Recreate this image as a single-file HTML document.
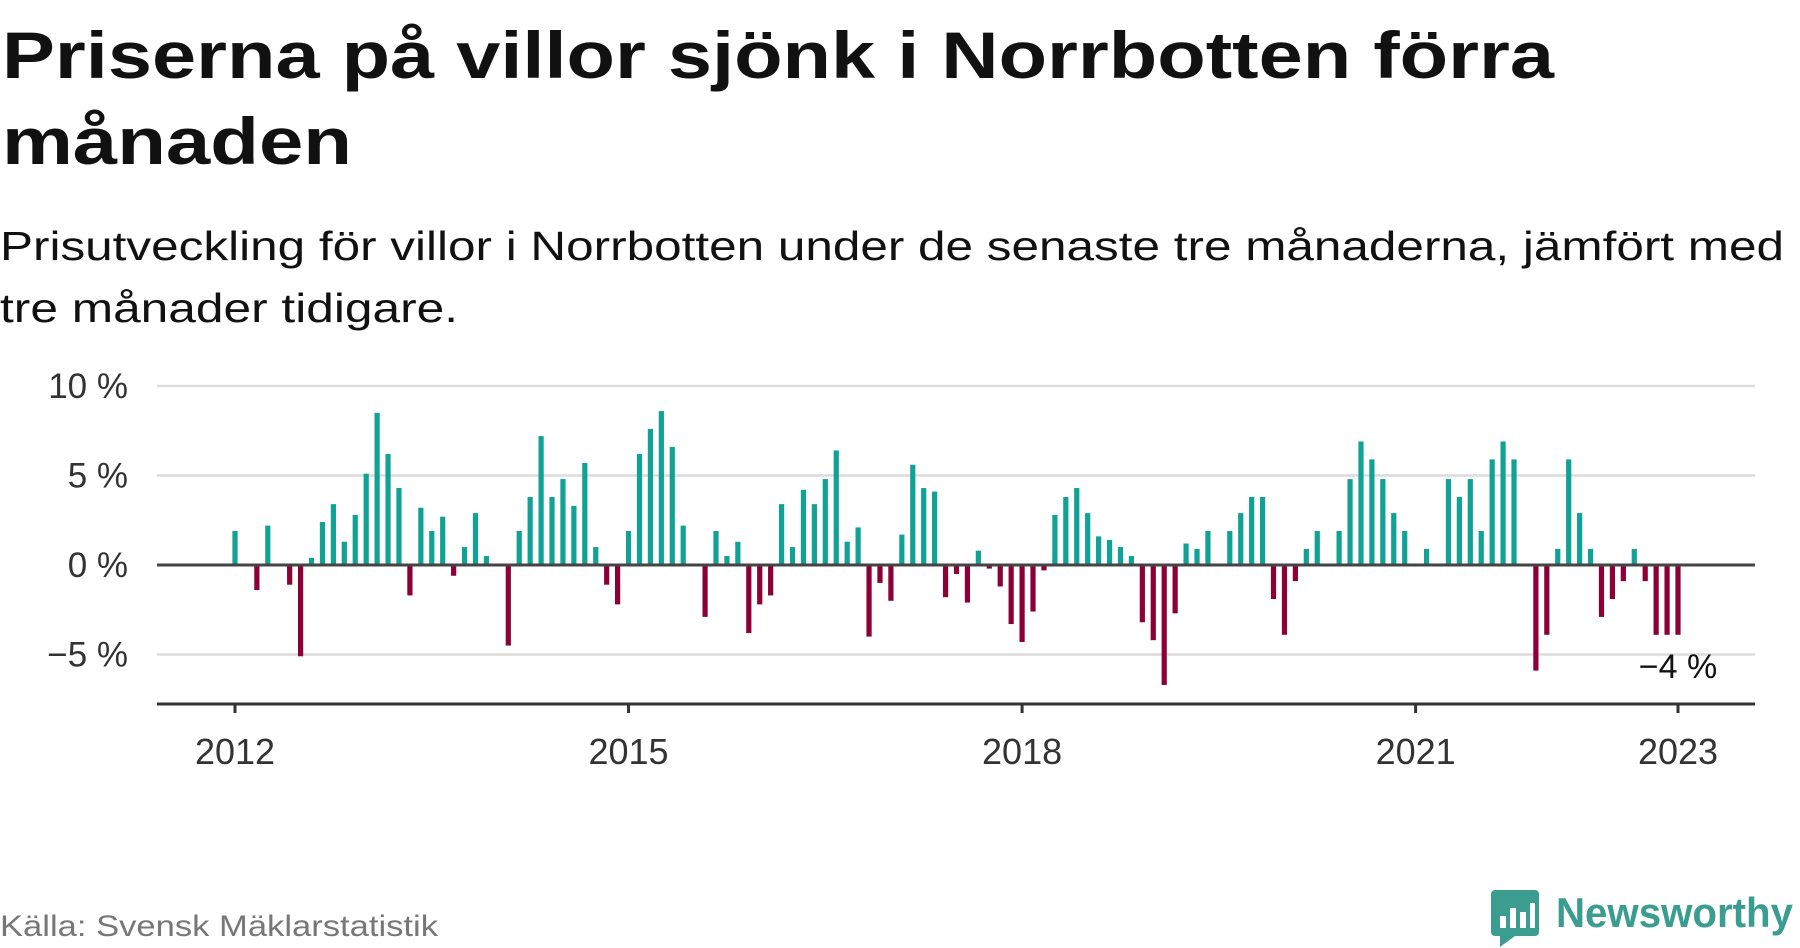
<!DOCTYPE html>
<html><head><meta charset="utf-8">
<style>
html,body{margin:0;padding:0;background:#fff;}
svg{display:block;font-family:"Liberation Sans","DejaVu Sans",sans-serif;}
</style></head>
<body>
<svg id="chart" width="1800" height="948" viewBox="0 0 1800 948" xmlns="http://www.w3.org/2000/svg">
  <text x="2" y="78" font-size="66" font-weight="bold" fill="#111" textLength="1552" lengthAdjust="spacingAndGlyphs">Priserna på villor sjönk i Norrbotten förra</text>
  <text x="2" y="164" font-size="66" font-weight="bold" fill="#111" textLength="350" lengthAdjust="spacingAndGlyphs">månaden</text>
  <text x="0" y="260" font-size="41" fill="#111" textLength="1784" lengthAdjust="spacingAndGlyphs">Prisutveckling för villor i Norrbotten under de senaste tre månaderna, jämfört med</text>
  <text x="0" y="322" font-size="41" fill="#111" textLength="458" lengthAdjust="spacingAndGlyphs">tre månader tidigare.</text>
  <g id="grid"></g>
  <g id="bars"></g>
  <g id="axes"></g>
  <text x="1678" y="678" font-size="34" fill="#111" text-anchor="middle">−4 %</text>
  <text x="0" y="936" font-size="30" fill="#777" textLength="438" lengthAdjust="spacingAndGlyphs">Källa: Svensk Mäklarstatistik</text>
  <g>
    <rect x="1491" y="890" width="48" height="46" rx="4" fill="#3a9d8f"/>
    <polygon points="1500,936 1515,936 1500,947" fill="#3a9d8f"/>
    <rect x="1500" y="916" width="6" height="12" fill="#fff"/>
    <rect x="1510" y="908" width="6" height="20" fill="#fff"/>
    <rect x="1520" y="912" width="6" height="16" fill="#fff"/>
    <rect x="1530" y="903" width="5" height="25" fill="#fff"/>
    <text x="1556" y="927" font-size="42" font-weight="bold" fill="#3a9d8f" textLength="237" lengthAdjust="spacingAndGlyphs">Newsworthy</text>
  </g>
</svg>
<script>
const startYear = 2012;
const values = [1.9,0,-1.4,2.2,0,-1.1,-5.1,0.4,2.4,3.4,1.3,2.8,
5.1,8.5,6.2,4.3,-1.7,3.2,1.9,2.7,-0.6,1.0,2.9,0.5,
0,-4.5,1.9,3.8,7.2,3.8,4.8,3.3,5.7,1.0,-1.1,-2.2,
1.9,6.2,7.6,8.6,6.6,2.2,0,-2.9,1.9,0.5,1.3,-3.8,
-2.2,-1.7,3.4,1.0,4.2,3.4,4.8,6.4,1.3,2.1,-4.0,-1.0,
-2.0,1.7,5.6,4.3,4.1,-1.8,-0.5,-2.1,0.8,-0.2,-1.2,-3.3,
-4.3,-2.6,-0.3,2.8,3.8,4.3,2.9,1.6,1.4,1.0,0.5,-3.2,
-4.2,-6.7,-2.7,1.2,0.9,1.9,0,1.9,2.9,3.8,3.8,-1.9,
-3.9,-0.9,0.9,1.9,0,1.9,4.8,6.9,5.9,4.8,2.9,1.9,
0,0.9,0,4.8,3.8,4.8,1.9,5.9,6.9,5.9,0,-5.9,
-3.9,0.9,5.9,2.9,0.9,-2.9,-1.9,-0.9,0.9,-0.9,-3.9,-3.9,-3.9];
const yTicks = [10,5,0,-5];
const yTickLabels = ["10 %","5 %","0 %","−5 %"];
const xTickYears = [2012,2015,2018,2021,2023];

const NS = "http://www.w3.org/2000/svg";
const x0 = 235, monthW = 1443/132;
const xScale = m => x0 + m*monthW;
const yScale = v => 565 - v*17.9;
function mk(tag, attrs, parent){ const e=document.createElementNS(NS,tag); for(const k in attrs) e.setAttribute(k,attrs[k]); parent.appendChild(e); return e; }
const grid=document.getElementById('grid'), bars=document.getElementById('bars'), axes=document.getElementById('axes');

yTicks.forEach((t,i)=>{
  if(t!==0){
    const l=mk('line',{x1:157,x2:1755,y1:yScale(t),y2:yScale(t),stroke:'#dcdcdc','stroke-width':2.5},grid);
    
    
  }
  const tx=mk('text',{x:128,y:yScale(t)+12,'font-size':35,fill:'#333','text-anchor':'end'},grid);
  tx.textContent=yTickLabels[i];
  
  
});

values.forEach((v,m)=>{
  if(v===0) return;
  const x=xScale(m);
  const y1=yScale(Math.max(v,0)), y2=yScale(Math.min(v,0));
  const r=mk('rect',{x:x-2.6,y:y1,width:5.2,height:y2-y1,fill:v>0?'#0fa295':'#8c0035'},bars);
  
  
});

const zl=mk('line',{x1:157,x2:1755,y1:yScale(0),y2:yScale(0),stroke:'#444','stroke-width':3},axes);


const xa=mk('line',{x1:157,x2:1755,y1:704,y2:704,stroke:'#333','stroke-width':3},axes);


xTickYears.forEach(yr=>{
  const x=xScale((yr-startYear)*12);
  const tk=mk('line',{x1:x,x2:x,y1:704,y2:713,stroke:'#333','stroke-width':3},axes);
  
  
  const tx=mk('text',{x:x,y:764,'font-size':36,fill:'#333','text-anchor':'middle'},axes);
  tx.textContent=String(yr);
  
  
});
</script>
</body></html>
